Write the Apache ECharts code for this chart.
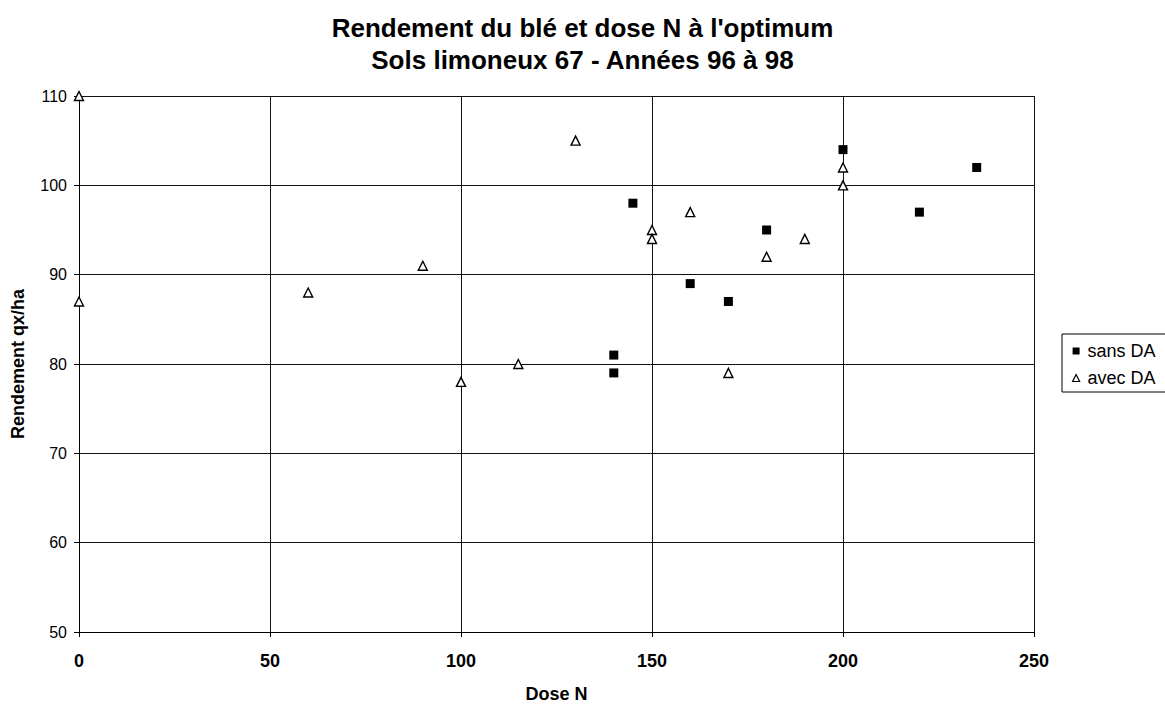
<!DOCTYPE html>
<html>
<head>
<meta charset="utf-8">
<script src="https://cdn.jsdelivr.net/npm/echarts@6/dist/echarts.min.js"></script>
<style>
  html, body { margin: 0; padding: 0; background: #fff; }
  #chart { width: 1165px; height: 704px; }
</style>
</head>
<body>
<div id="chart"></div>
<script>
// Dose N (kg/ha) and yield (qx/ha) at the optimum, silty soils 67, 1996-1998
const sansDaDose = [140, 140, 145, 160, 170, 180, 200, 220, 235];
const sansDaRendement = [81, 79, 98, 89, 87, 95, 104, 97, 102];

const avecDaDose = [0, 0, 60, 90, 100, 115, 130, 150, 150, 160, 170, 180, 190, 200, 200];
const avecDaRendement = [110, 87, 88, 91, 78, 80, 105, 95, 94, 97, 79, 92, 94, 102, 100];

const seriesNames = ['sans DA', 'avec DA'];
const titleLines = ["Rendement du blé et dose N à l'optimum", 'Sols limoneux 67 - Années 96 à 98'];

const pairs = (xs, ys) => xs.map((x, i) => [x, ys[i]]);

const font = '"Liberation Sans", Arial, sans-serif';

const chart = echarts.init(document.getElementById('chart'), null, { renderer: 'svg' });
chart.setOption({
  backgroundColor: '#ffffff',
  animation: false,
  title: {
    text: titleLines.join('\n'),
    left: 'center',
    top: 12,
    padding: 0,
    textStyle: { fontFamily: font, fontSize: 26, fontWeight: 'bold', color: '#000', lineHeight: 32 }
  },
  legend: {
    orient: 'vertical',
    left: 1062,
    top: 334,
    padding: [7, 40, 4, 10],
    itemGap: 7,
    itemWidth: 7,
    itemHeight: 7,
    borderColor: '#000',
    borderWidth: 1,
    textStyle: { fontFamily: font, fontSize: 18, lineHeight: 20, color: '#000', padding: [0, 0, 0, 3] },
    data: [
      { name: seriesNames[0], icon: 'rect' },
      { name: seriesNames[1], icon: 'triangle', itemStyle: { color: '#fff', borderColor: '#000', borderWidth: 1.2 } }
    ]
  },
  grid: { left: 79, right: 131, top: 96, bottom: 72, containLabel: false, outerBoundsMode: 'none' },
  xAxis: {
    type: 'value',
    min: 0, max: 250, interval: 50,
    name: 'Dose N',
    nameLocation: 'middle',
    nameGap: 53,
    nameTextStyle: { fontFamily: font, fontSize: 18, fontWeight: 'bold', color: '#000', lineHeight: 18 },
    axisLine: { show: true, lineStyle: { color: '#000', width: 1 } },
    axisTick: { show: true, length: 5, lineStyle: { color: '#000' } },
    axisLabel: { fontFamily: font, fontSize: 18, fontWeight: 'bold', color: '#000', margin: 20 },
    splitLine: { show: true, lineStyle: { color: '#111', width: 1 } }
  },
  yAxis: {
    type: 'value',
    min: 50, max: 110, interval: 10,
    name: 'Rendement qx/ha',
    nameLocation: 'middle',
    nameGap: 52,
    nameTextStyle: { fontFamily: font, fontSize: 18, fontWeight: 'bold', color: '#000' },
    axisLine: { show: true, lineStyle: { color: '#000', width: 1 } },
    axisTick: { show: true, length: 5, lineStyle: { color: '#000' } },
    axisLabel: { fontFamily: font, fontSize: 16, color: '#000', margin: 12 },
    splitLine: { show: true, lineStyle: { color: '#111', width: 1 } }
  },
  series: [
    {
      name: seriesNames[0],
      type: 'scatter',
      symbol: 'rect',
      symbolSize: 9,
      itemStyle: { color: '#000', borderColor: '#000', borderWidth: 0, opacity: 1 },
      data: pairs(sansDaDose, sansDaRendement)
    },
    {
      name: seriesNames[1],
      type: 'scatter',
      symbol: 'triangle',
      symbolSize: [9, 9],
      itemStyle: { color: '#fff', borderColor: '#000', borderWidth: 1.4, opacity: 1 },
      data: pairs(avecDaDose, avecDaRendement)
    }
  ]
});
</script>
</body>
</html>
